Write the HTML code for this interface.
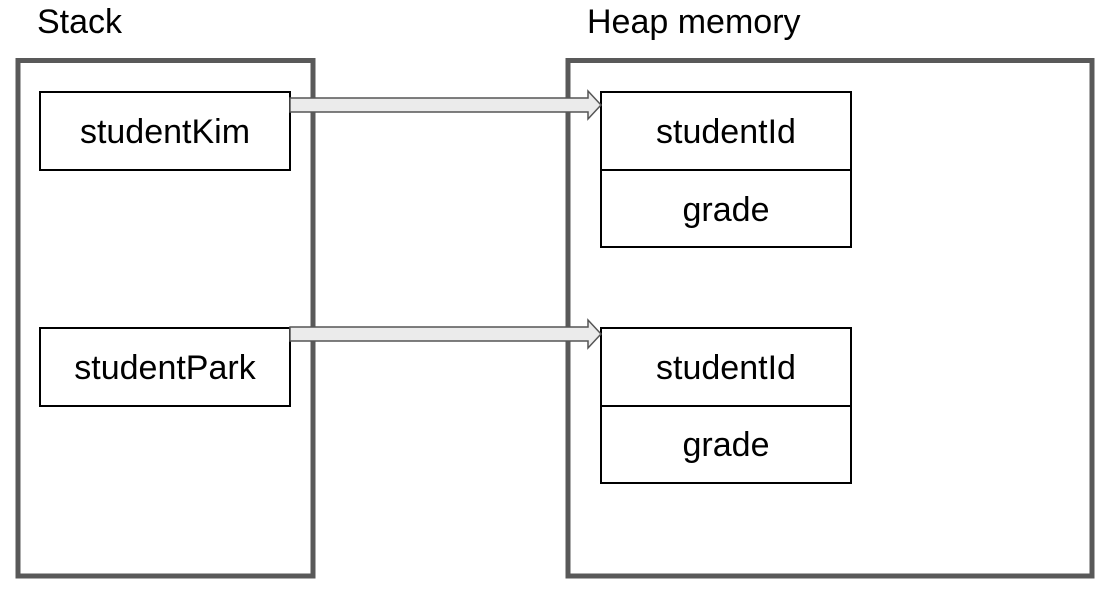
<!DOCTYPE html>
<html><head><meta charset="utf-8"><style>
body{margin:0;background:#fff;}
svg{display:block;font-family:"Liberation Sans",Arial,sans-serif;}
</style></head><body>
<svg width="1110" height="594" viewBox="0 0 1110 594" xmlns="http://www.w3.org/2000/svg">
<rect width="1110" height="594" fill="#fff"/>
<text x="37" y="33" font-size="34" fill="#000">Stack</text>
<text x="587" y="33" font-size="34" fill="#000">Heap memory</text>
<rect x="18" y="60.5" width="295" height="515.5" fill="none" stroke="#595959" stroke-width="5"/>
<rect x="568" y="60.5" width="524" height="515.5" fill="none" stroke="#595959" stroke-width="5"/>
<g fill="#fff" stroke="#000" stroke-width="2">
<rect x="40" y="92" width="250" height="78"/>
<rect x="40" y="328" width="250" height="78"/>
<rect x="601" y="92" width="250" height="78"/>
<rect x="601" y="170" width="250" height="77"/>
<rect x="601" y="328" width="250" height="78"/>
<rect x="601" y="406" width="250" height="77"/>
</g>
<g fill="#ebebeb" stroke="#555" stroke-width="1.5">
<polygon points="290,98 588,98 588,91 601,105 588,119 588,112 290,112"/>
<polygon points="290,327 588,327 588,320 601,334 588,348 588,341 290,341"/>
</g>
<g font-size="34" fill="#000" text-anchor="middle">
<text x="165" y="143">studentKim</text>
<text x="165" y="379">studentPark</text>
<text x="726" y="143">studentId</text>
<text x="726" y="221">grade</text>
<text x="726" y="379">studentId</text>
<text x="726" y="456">grade</text>
</g>
</svg>
</body></html>
